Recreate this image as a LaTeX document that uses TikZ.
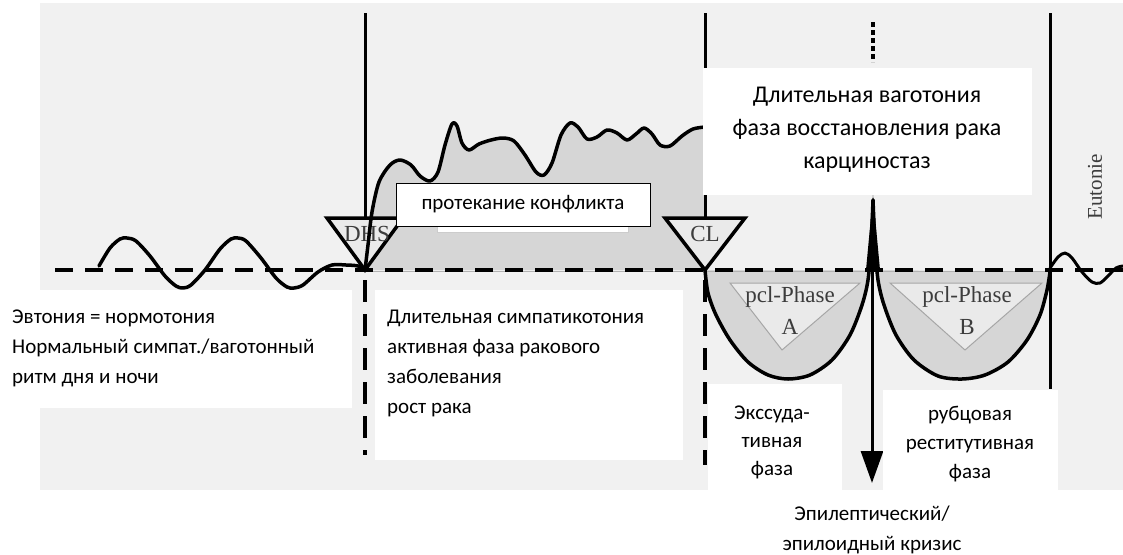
\documentclass[tikz,border=0pt]{standalone}
\usepackage{fontspec}
\setmainfont{Carlito}
\newfontfamily\scanfont{Liberation Serif}
\usetikzlibrary{arrows.meta, positioning}
\definecolor{scangray}{RGB}{241,241,241}
\definecolor{fillgray}{RGB}{214,214,214}
\definecolor{trigray}{RGB}{234,234,234}
\definecolor{inkgray}{RGB}{60,60,60}

\tikzset{
	ru text/.style={font=\fontsize{21}{30}\selectfont, inner sep=0pt},
	scan text/.style={font=\scanfont\fontsize{23}{25}\selectfont, text=inkgray, inner sep=0pt},
	curve/.style={line width=3.5pt, line join=round, line cap=round},
	axis line/.style={line width=3pt},
	axis dashes/.style={line width=4pt, dash pattern=on 22pt off 12pt},
}

\begin{document}
\begin{tikzpicture}[x=1pt,y=-1pt]
	\useasboundingbox (0,0) rectangle (1123,554);
	\fill[white] (0,0) rectangle (1123,554);
	
	% scanned figure
	\fill[scangray] (40,3) rectangle (1123,490);
	
	\fill[fillgray] (365,270) -- plot[smooth] coordinates {(368,245) (372,212) (379,182) (390,165) (400,160) (411,165) (420,176) (430,181) (438,172) (445,145) (452,124) (457,126) (462,143) (469,150) (479,144) (491,140) (503,138) (514,141) (525,155) (536,172) (544,175) (552,163) (561,135) (570,123) (578,127) (587,139) (597,137) (607,130) (617,133) (627,140) (636,134) (644,128) (652,134) (660,145) (670,146) (682,136) (693,129) (705,127)} -- (705,270) -- cycle;
	\fill[fillgray] plot[smooth] coordinates {(705,270) (708,293) (716,315) (730,340) (748,362) (768,375) (788,379) (810,375) (832,360) (850,335) (862,305) (868,283) (871,270)} -- cycle;
	\fill[fillgray] plot[smooth] coordinates {(875,270) (878,283) (884,305) (896,335) (914,360) (938,376) (962,379) (985,375) (1008,362) (1027,340) (1040,315) (1047,290) (1050,272)} -- cycle;
	
	\draw[fill=trigray,draw=gray!70,line width=1pt] (730,283) -- (860,283) -- (782,350) -- cycle;
	\draw[fill=trigray,draw=gray!70,line width=1pt] (890,283) -- (1042,283) -- (965,350) -- cycle;
	\node[scan text] (pclA) at (790,297) {pcl-Phase};
	\node[scan text] (phaseA) at (790,327) {A};
	\node[scan text] (pclB) at (967,297) {pcl-Phase};
	\node[scan text] (phaseB) at (967,327) {B};
	
	\draw[gray!60,line width=0.8pt] (365,271) -- (1050,271);
	\draw[line width=4pt,dash pattern=on 18pt off 12pt] (55,270) -- (1123,270);
	
	\draw[axis line] (365,13) -- (365,270);
	\draw[axis dashes] (365,280) -- (365,455);
	\draw[axis line] (705,13) -- (705,270);
	\draw[axis dashes] (705,280) -- (705,465);
	\draw[line width=4.5pt,dash pattern=on 5pt off 3pt] (873,22) -- (873,62);
	\draw[axis line] (1050,13) -- (1050,389);
	
	\draw[line width=3.5pt,fill=trigray] (327,218) -- (403,218) -- (365,270) -- cycle;
	\draw[line width=3.5pt,fill=trigray] (665,218) -- (745,218) -- (705,270) -- cycle;
	\node[scan text] (dhs) at (367,234) {DHS};
	\node[scan text] (cl) at (705,234) {CL};
	
	\draw[curve] plot[smooth] coordinates {(99,266) (110,248) (120,239) (127,238) (136,241) (150,256) (165,276) (176,286) (183,288) (191,285) (205,270) (220,249) (231,239) (238,238) (246,241) (261,258) (276,278) (287,287) (294,288) (303,285) (318,272) (332,265) (346,265) (358,266) (365,270)};
	\draw[curve] plot[smooth] coordinates {(365,270) (368,245) (372,212) (379,182) (390,165) (400,160) (411,165) (420,176) (430,181) (438,172) (445,145) (452,124) (457,126) (462,143) (469,150) (479,144) (491,140) (503,138) (514,141) (525,155) (536,172) (544,175) (552,163) (561,135) (570,123) (578,127) (587,139) (597,137) (607,130) (617,133) (627,140) (636,134) (644,128) (652,134) (660,145) (670,146) (682,136) (693,129) (705,127)};
	\draw[curve] plot[smooth] coordinates {(705,270) (708,293) (716,315) (730,340) (748,362) (768,375) (788,379) (810,375) (832,360) (850,335) (862,305) (868,280) (871,245) (873,200)};
	\draw[curve] plot[smooth] coordinates {(873,200) (875,245) (878,280) (884,305) (896,335) (914,360) (938,376) (962,379) (985,375) (1008,362) (1027,340) (1040,315) (1047,290) (1050,272)};
	\fill (866,270) -- (873,195) -- (880,270) -- cycle;
	\draw[curve,line width=3pt] plot[smooth] coordinates {(1050,268) (1058,257) (1065,253) (1072,258) (1082,272) (1092,282) (1100,283) (1108,276) (1116,268) (1123,266)};
	
	\coordinate (crisis) at (872,270);
	\coordinate (tip) at (872,483);
	\draw[line width=3pt,-{Triangle[length=32pt,width=22pt]}] (crisis) -- (tip);
	
	\node[scan text,rotate=90,font=\scanfont\fontsize{21}{23}\selectfont] (eutonie) at (1095,187) {Eutonie};
	
	% overlaid labels
	\fill[white] (0,290) rectangle (352,408);
	\fill[white] (375,290) rectangle (683,460);
	\fill[white] (703,68) rectangle (1032,195);
	\fill[white] (708,384) rectangle (842,490);
	\fill[white] (883,390) rectangle (1058,490);
	\draw[fill=white,draw=gray!40] (437,205) rectangle (628,232);
	
	\node[ru text,draw,fill=white,line width=1pt,minimum width=254pt,minimum height=43pt] (conflict) at (523,204.5) {протекание конфликта};
	
	\node[ru text,anchor=base west] (eutonia) at (12,323) {\begin{tabular}[t]{@{}l@{}}Эвтония = нормотония\\Нормальный симпат./ваготонный\\ритм дня и ночи\end{tabular}};
	\node[ru text,anchor=base west] (sympathico) at (387,323) {\begin{tabular}[t]{@{}l@{}}Длительная симпатикотония\\активная фаза ракового\\заболевания\\рост рака\end{tabular}};
	\node[ru text,anchor=base,font=\fontsize{24}{33}\selectfont] (vagotonia) at (867,102) {\begin{tabular}[t]{@{}c@{}}Длительная ваготония\\фаза восстановления рака\\карциностаз\end{tabular}};
	\node[ru text,anchor=base,font=\fontsize{21}{28}\selectfont] (exsud) at (772,419) {\begin{tabular}[t]{@{}c@{}}Экссуда-\\тивная\\фаза\end{tabular}};
	\node[ru text,anchor=base,font=\fontsize{21}{29}\selectfont] (rubcov) at (970,420) {\begin{tabular}[t]{@{}c@{}}рубцовая\\реститутивная\\фаза\end{tabular}};
	\node[ru text,anchor=base,font=\fontsize{21}{30}\selectfont] (epicrisis) at (872,520) {\begin{tabular}[t]{@{}c@{}}Эпилептический/\\эпилоидный кризис\end{tabular}};
\end{tikzpicture}
\end{document}
